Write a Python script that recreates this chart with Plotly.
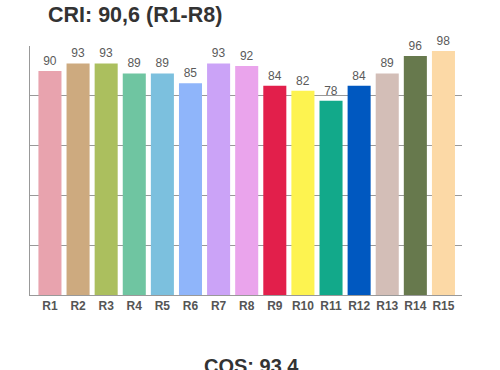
import plotly.graph_objects as go

categories = ["R1", "R2", "R3", "R4", "R5", "R6", "R7", "R8", "R9", "R10", "R11", "R12", "R13", "R14", "R15"]
values = [90, 93, 93, 89, 89, 85, 93, 92, 84, 82, 78, 84, 89, 96, 98]
colors = ["#E8A3AE", "#CDAA7F", "#ABBF5E", "#6FC5A1", "#7CC0DE", "#8FB5FA", "#CBA3F7", "#EAA4EC",
          "#E21F4B", "#FDF350", "#12A98A", "#0058C0", "#D3BEB7", "#67794D", "#FCD9A6"]
title_text = "CRI: 90,6 (R1-R8)"
footer_text = "CQS: 93.4"

W, H = 500, 370
ML, MR, MT, MB = 30, 38, 46, 75

fig = go.Figure()
fig.add_trace(go.Bar(
    x=list(range(len(categories))), y=values,
    marker=dict(color=colors, line=dict(width=0)),
    width=0.82,
    text=[str(v) for v in values], textposition="outside",
    textfont=dict(family="Liberation Sans, Arial", size=12, color="#5a5a5a"),
    cliponaxis=False,
    hoverinfo="skip",
))

pw = W - ML - MR
ph = H - MT - MB
def px(x): return (x - ML) / pw
def py(y): return (H - MB - y) / ph

fig.update_layout(
    width=W, height=H,
    margin=dict(l=ML, r=MR, t=MT, b=MB),
    paper_bgcolor="white", plot_bgcolor="white",
    showlegend=False,
    font=dict(family="Liberation Sans, Arial"),
    xaxis=dict(
        range=[-0.71, 14.66], tickmode="array",
        tickvals=list(range(len(categories))),
        ticktext=["<b>%s</b>" % c for c in categories],
        tickfont=dict(size=12, color="#555555"),
        showgrid=False, zeroline=False, showline=True, linecolor="#999999", linewidth=1,
        ticks="", ticklen=0,
    ),
    yaxis=dict(
        range=[0, 100], dtick=20, showticklabels=False,
        showgrid=True, gridcolor="#999999", gridwidth=1,
        zeroline=False, showline=True, linecolor="#999999", linewidth=1,
    ),
    annotations=[
        dict(text="<b>%s</b>" % title_text, x=px(135), y=py(15), xref="paper", yref="paper",
             xanchor="center", yanchor="middle",
             showarrow=False, font=dict(size=21.5, color="#333333")),
        dict(text="<b>%s</b>" % footer_text, x=px(251), y=py(366), xref="paper", yref="paper",
             xanchor="center", yanchor="middle",
             showarrow=False, font=dict(size=20, color="#333333")),
    ],
)

fig.write_html("out.html", config={"displayModeBar": False},
               post_script="document.body.style.margin='0';document.body.style.overflow='hidden';")
